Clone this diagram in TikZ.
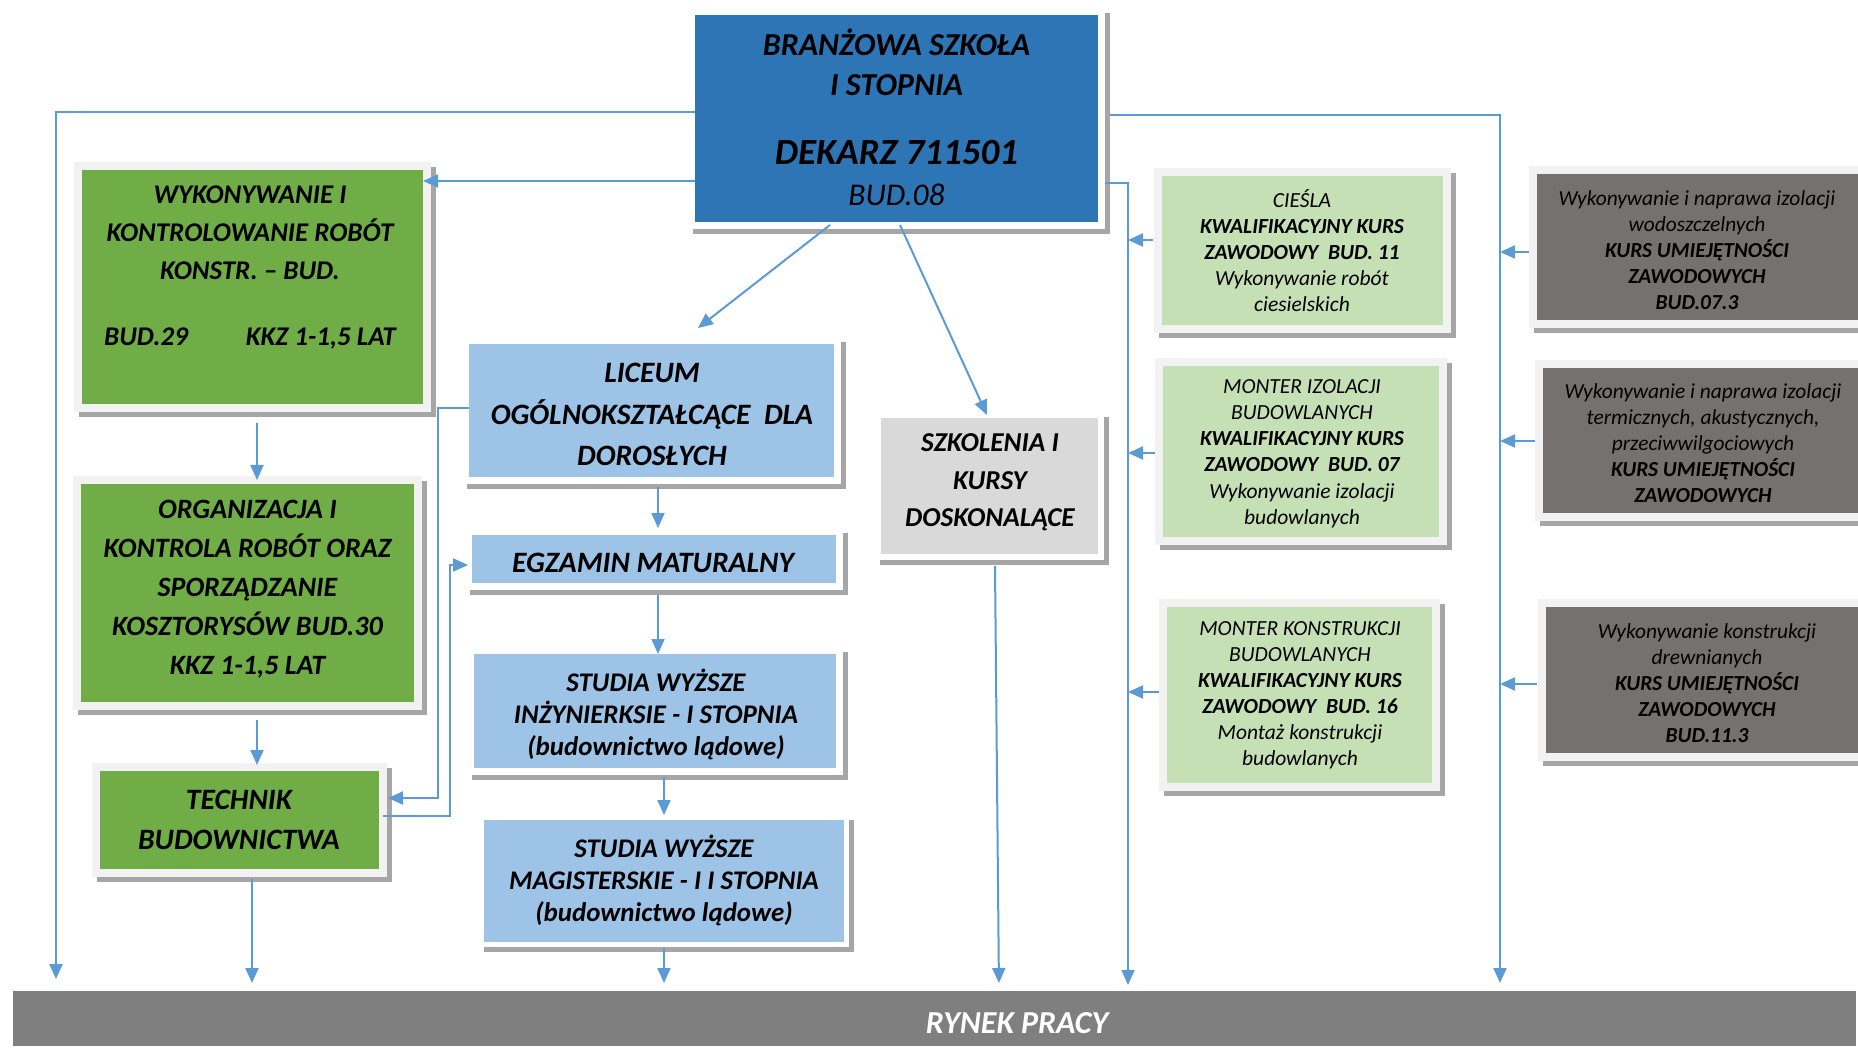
\documentclass[tikz,border=0pt]{standalone}
\usepackage{fontspec}
\setmainfont{Carlito}
\usetikzlibrary{arrows.meta,calc,fit}
\definecolor{connc}{HTML}{5B9BD5}
\definecolor{topblue}{HTML}{2E75B6}
\definecolor{grn}{HTML}{70AD47}
\definecolor{lblue}{HTML}{9DC3E6}
\definecolor{lgray}{HTML}{D9D9D9}
\definecolor{lgreen}{HTML}{C5E0B4}
\definecolor{dgray}{HTML}{767171}
\definecolor{barc}{HTML}{7F7F7F}
\definecolor{framec}{HTML}{F2F2F2}
\definecolor{shadc}{HTML}{A6A6A6}
\newcommand\setfs[2]{\fontsize{#1}{#2}\selectfont}
\newcommand\mkbox[8]{%
  \fill[shadc] ({#2-#8+5},{#3-#8+5}) rectangle ({#4+#8+5},{#5+#8+5});
  \fill[#7] ({#2-#8},{#3-#8}) rectangle ({#4+#8},{#5+#8});
  \node[inner sep=0pt, outer sep=0pt, fill=#6, fit={(#2,#3) (#4,#5)}] (#1) {};
}
\tikzset{
  arr/.style={draw=connc, line width=1pt, -{Triangle[length=7.5pt,width=6.5pt]}},
  txt/.style={align=center, inner sep=0pt, text=black},
}
\begin{document}
\begin{tikzpicture}[x=0.5pt,y=-0.5pt]
\useasboundingbox (0,0) rectangle (1858,1053);
\begin{scope}
\clip (0,0) rectangle (1858,1053);
% boxes
\mkbox{top}{695}{15}{1098}{222}{topblue}{white}{7}
\mkbox{g1}{82}{170}{423}{404}{grn}{framec}{8}
\mkbox{g2}{81}{484}{414}{702}{grn}{framec}{8}
\mkbox{tech}{100}{771}{379}{869}{grn}{framec}{8}
\mkbox{lic}{469}{344}{834}{477}{lblue}{white}{7}
\mkbox{egz}{472}{535}{836}{583}{lblue}{white}{7}
\mkbox{st1}{474}{654}{836}{768}{lblue}{white}{7}
\mkbox{st2}{484}{820}{844}{942}{lblue}{white}{5}
\mkbox{szk}{881}{418}{1098}{554}{lgray}{white}{6}
\mkbox{r1}{1162}{176}{1443}{325}{lgreen}{framec}{8}
\mkbox{r2}{1163}{366}{1439}{537}{lgreen}{framec}{8}
\mkbox{r3}{1167}{607}{1432}{783}{lgreen}{framec}{8}
\mkbox{d1}{1537}{174}{1880}{320}{dgray}{framec}{8}
\mkbox{d2}{1543}{368}{1880}{513}{dgray}{framec}{8}
\mkbox{d3}{1546}{607}{1880}{753}{dgray}{framec}{8}
\node[inner sep=0pt, outer sep=0pt, fill=barc, fit={(13,991) (1856,1046)}] (bar) {};

% texts
\node[txt, font=\setfs{16}{20}\bfseries\itshape] (tt1) at (896.5,62) {BRANŻOWA SZKOŁA\\I STOPNIA};
\node[txt, font=\setfs{18.5}{22}\bfseries\itshape] (tt2) at (896.5,153) {DEKARZ 711501};
\node[txt, font=\setfs{15.8}{19}\itshape] (tt3) at (896.5,195) {BUD.08};
\node[txt, font=\setfs{13.5}{19}\bfseries\itshape] (g1t) at (250,267.5) {WYKONYWANIE I\\KONTROLOWANIE ROBÓT\\KONSTR. – BUD.\\[14pt]BUD.29\hspace{29pt}KKZ 1-1,5 LAT};
\node[txt, font=\setfs{14}{19.5}\bfseries\itshape] (g2t) at (247.5,589) {ORGANIZACJA I\\KONTROLA ROBÓT ORAZ\\SPORZĄDZANIE\\KOSZTORYSÓW BUD.30\\KKZ 1-1,5 LAT};
\node[txt, font=\setfs{14.8}{20.3}\bfseries\itshape] (techt) at (239,820) {TECHNIK\\BUDOWNICTWA};
\node[txt, font=\setfs{14.8}{20.75}\bfseries\itshape] (lict) at (652,414.5) {LICEUM\\OGÓLNOKSZTAŁCĄCE\ \ DLA\\DOROSŁYCH};
\node[txt, font=\setfs{14.8}{16}\bfseries\itshape] (egzt) at (653,563) {EGZAMIN MATURALNY};
\node[txt, font=\setfs{13.45}{16}\bfseries\itshape] (st1t) at (656,714) {STUDIA WYŻSZE\\INŻYNIERKSIE - I STOPNIA\\(budownictwo lądowe)};
\node[txt, font=\setfs{13.45}{16}\bfseries\itshape] (st2t) at (664,880) {STUDIA WYŻSZE\\MAGISTERSKIE - I I STOPNIA\\(budownictwo lądowe)};
\node[txt, font=\setfs{13.65}{18.75}\bfseries\itshape] (szkt) at (990,482.5) {SZKOLENIA I\\KURSY\\DOSKONALĄCE};
\node[txt, font=\setfs{10.75}{13}\itshape] (r1t) at (1302,251) {CIEŚLA\\\textbf{KWALIFIKACYJNY KURS}\\\textbf{ZAWODOWY\ \ BUD. 11}\\Wykonywanie robót\\ciesielskich};
\node[txt, font=\setfs{10.75}{13.1}\itshape] (r2t) at (1302,453.5) {MONTER IZOLACJI\\BUDOWLANYCH\\\textbf{KWALIFIKACYJNY KURS}\\\textbf{ZAWODOWY\ \ BUD. 07}\\Wykonywanie izolacji\\budowlanych};
\node[txt, font=\setfs{10.75}{13}\itshape] (r3t) at (1300,695) {MONTER KONSTRUKCJI\\BUDOWLANYCH\\\textbf{KWALIFIKACYJNY KURS}\\\textbf{ZAWODOWY\ \ BUD. 16}\\Montaż konstrukcji\\budowlanych};
\node[txt, font=\setfs{10.7}{13}\itshape] (d1t) at (1697,250) {Wykonywanie i naprawa izolacji\\wodoszczelnych\\\textbf{KURS UMIEJĘTNOŚCI}\\\textbf{ZAWODOWYCH}\\\textbf{BUD.07.3}};
\node[txt, font=\setfs{10.7}{13}\itshape] (d2t) at (1703,443.5) {Wykonywanie i naprawa izolacji\\termicznych, akustycznych,\\przeciwwilgociowych\\\textbf{KURS UMIEJĘTNOŚCI}\\\textbf{ZAWODOWYCH}};
\node[txt, font=\setfs{10.7}{13}\itshape] (d3t) at (1707,683.5) {Wykonywanie konstrukcji\\drewnianych\\\textbf{KURS UMIEJĘTNOŚCI}\\\textbf{ZAWODOWYCH}\\\textbf{BUD.11.3}};
\node[txt, text=white, font=\setfs{16}{18}\bfseries\itshape] (bart) at (1017,1023) {RYNEK PRACY};

% connectors
\coordinate (L1) at (56,112);
\draw[arr, shorten >=6pt] (top.west |- L1) -- (L1) -- (L1 |- bar.north);
\coordinate (G1) at (0,181);
\draw[arr] (top.west |- G1) -- (g1.east |- G1);
\draw[arr] ($(top.south)+(-66.5,3)$) -- ($(lic.north)+(46.5,-16)$);
\draw[arr] ($(top.south)+(3.5,3)$) -- ($(szk.north)+(-2.5,-3)$);
\coordinate (V1) at (438,408);
\draw[arr] (lic.west |- V1) -- (V1) |- ($(tech.east)+(9,-22)$);
\coordinate (V2) at (450,565);
\draw[arr] ($(tech.east)+(4,-4)$) -| (V2) -- ($(egz.west)+(-4,6)$);
\draw[arr] ($(lic.south)+(6.5,10)$) -- ($(egz.north)+(4,-7)$);
\draw[arr] ($(egz.south)+(4,12)$) -- ($(st1.north)+(3,0)$);
\draw[arr] ($(st1.south)+(9,9)$) -- ($(st2.north)+(0,-5)$);
\coordinate (S2) at ($(st2.south)+(0,6)$);
\draw[arr, shorten >=4pt] (S2) -- (S2 |- bar.north);
\draw[arr] ($(g1.south)+(4.5,19)$) -- ($(g2.north)+(9.5,-4)$);
\draw[arr] ($(g2.south)+(9.5,18)$) -- ($(tech.north)+(17.5,-6)$);
\coordinate (T1) at ($(tech.south)+(12.5,10)$);
\draw[arr, shorten >=4pt] (T1) -- (T1 |- bar.north);
\draw[arr, shorten >=4pt] ($(szk.south)+(5.5,12)$) -- ($(bar.north)+(64.5,0)$);
\coordinate (R1) at (1128,183);
\draw[arr, shorten >=3pt] ($(top.east |- R1)+(7,0)$) -- (R1) -- (R1 |- bar.north);
\coordinate (A1) at ($(r1.west)+(-9,-10.5)$);
\draw[arr] (A1) -- (A1 -| R1);
\coordinate (A2) at ($(r2.west)+(-8,1.5)$);
\draw[arr] (A2) -- (A2 -| R1);
\coordinate (A3) at ($(r3.west)+(-8,-3)$);
\draw[arr] (A3) -- (A3 -| R1);
\coordinate (R2) at (1500,115);
\draw[arr, shorten >=4pt] ($(top.east |- R2)+(12,0)$) -- (R2) -- (R2 |- bar.north);
\coordinate (B1) at ($(d1.west)+(-8,5)$);
\draw[arr] (B1) -- (B1 -| R2);
\coordinate (B2) at ($(d2.west)+(-8,0.5)$);
\draw[arr] (B2) -- (B2 -| R2);
\coordinate (B3) at ($(d3.west)+(-9,4)$);
\draw[arr] (B3) -- (B3 -| R2);
\end{scope}
\end{tikzpicture}
\end{document}
